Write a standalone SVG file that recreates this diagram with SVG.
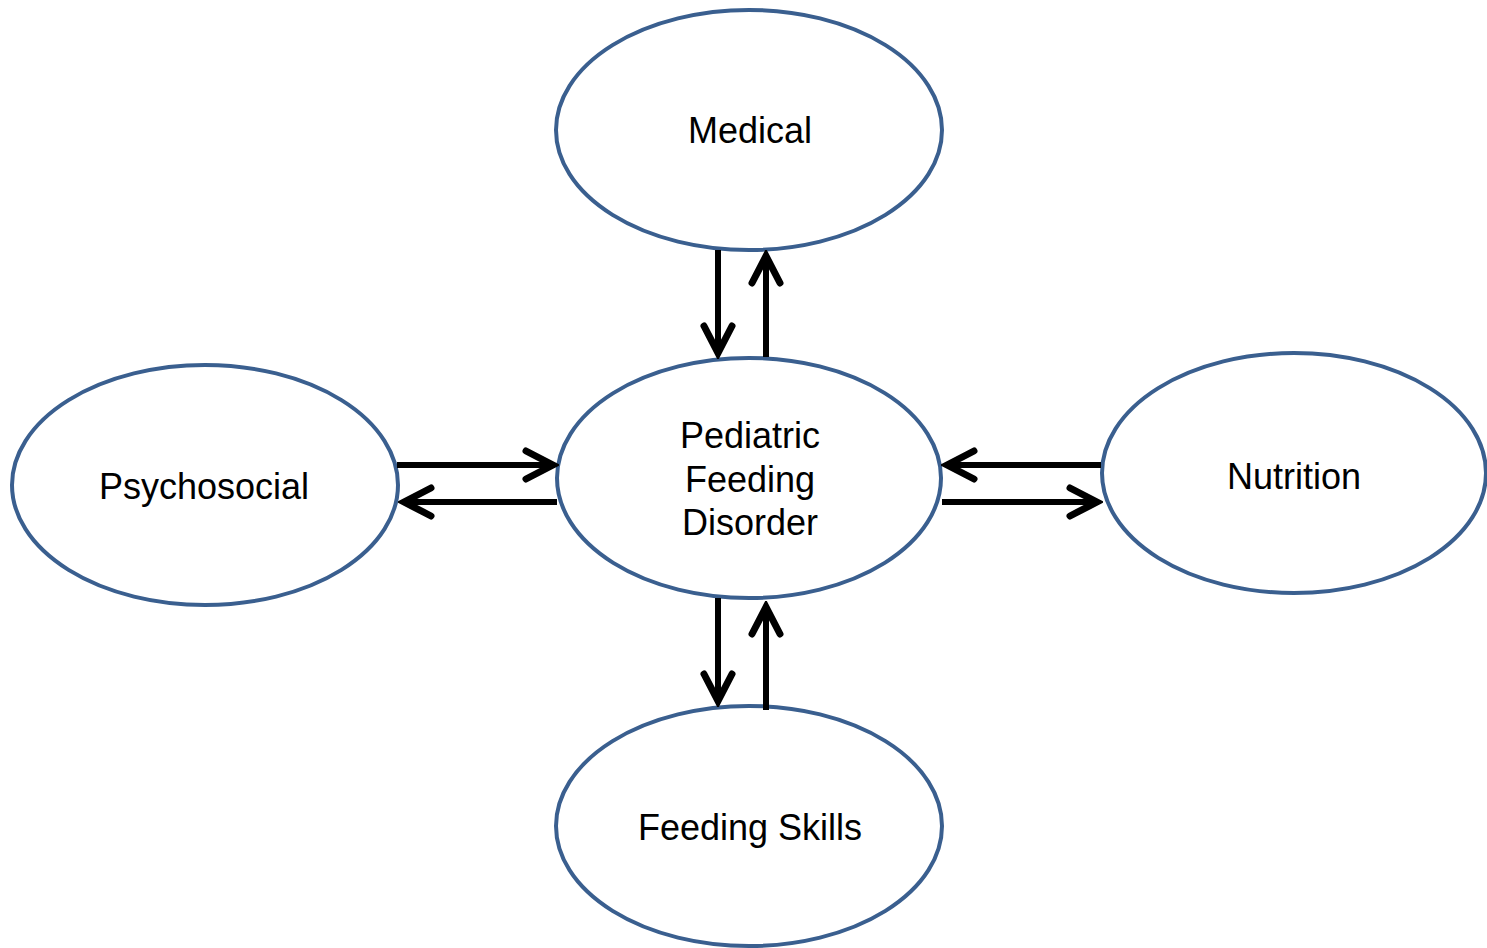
<svg xmlns="http://www.w3.org/2000/svg" width="1487" height="948" viewBox="0 0 1487 948">
<defs>
<marker id="ah" markerUnits="userSpaceOnUse" viewBox="-34 -20 40 40" refX="0" refY="0" markerWidth="40" markerHeight="40" orient="auto">
<path d="M-27,-14 L0,0 L-27,14" fill="none" stroke="#000" stroke-width="7" stroke-linecap="round" stroke-linejoin="miter"/>
</marker>
</defs>
<style>
.node ellipse{fill:#fff;stroke:#3A5F8F;stroke-width:4}
.node text{font-family:"Liberation Sans",Arial,sans-serif;font-size:36px;fill:#000;text-anchor:middle}
.conn line{stroke:#000;stroke-width:6;marker-end:url(#ah)}
</style>
<rect width="1487" height="948" fill="#fff"/>
<g id="medical" class="node"><ellipse cx="749" cy="130" rx="193" ry="120"/><text x="750" y="143">Medical</text></g>
<g id="pediatric" class="node"><ellipse cx="749" cy="478" rx="192" ry="120"/><text x="750" y="448">Pediatric</text><text x="750" y="492">Feeding</text><text x="750" y="535">Disorder</text></g>
<g id="psychosocial" class="node"><ellipse cx="205" cy="485" rx="193" ry="120"/><text x="204" y="499">Psychosocial</text></g>
<g id="nutrition" class="node"><ellipse cx="1294" cy="473" rx="192" ry="120"/><text x="1294" y="489">Nutrition</text></g>
<g id="feedingskills" class="node"><ellipse cx="749" cy="826" rx="193" ry="120"/><text x="750" y="840">Feeding Skills</text></g>
<g id="connectors" class="conn">
<line x1="718" y1="250" x2="718" y2="353"/>
<line x1="766" y1="357" x2="766" y2="256"/>
<line x1="397" y1="465" x2="553" y2="465"/>
<line x1="557" y1="502" x2="404" y2="502"/>
<line x1="1101" y1="465" x2="947" y2="465"/>
<line x1="942" y1="502" x2="1097" y2="502"/>
<line x1="718" y1="598" x2="718" y2="701"/>
<line x1="766" y1="710" x2="766" y2="607"/>
</g>
</svg>
